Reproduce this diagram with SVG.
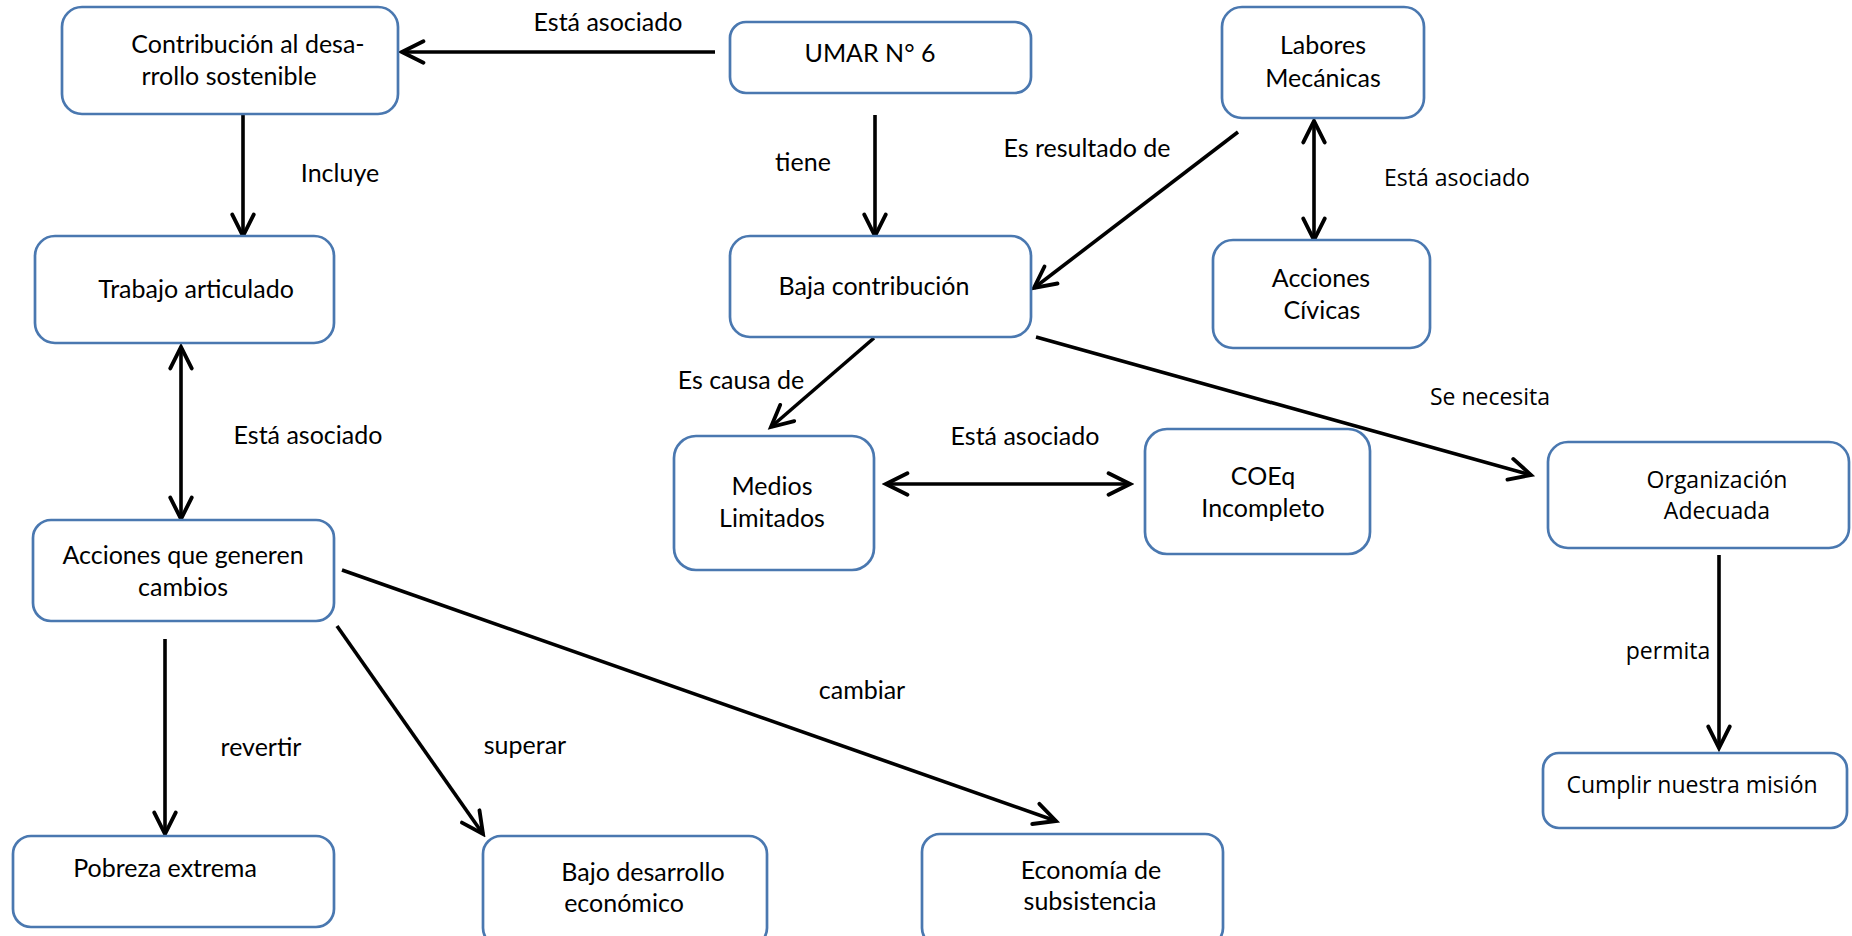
<svg xmlns="http://www.w3.org/2000/svg" width="1852" height="936" viewBox="0 0 1852 936">
<style>
.box{fill:#fff;stroke:#4A78B0;stroke-width:2.7}
.c{font-family:Lato,"Liberation Sans",sans-serif;font-size:25px;fill:#000;text-anchor:middle}
.s{font-family:"Open Sans","Noto Sans",sans-serif;font-size:23px;fill:#000;text-anchor:middle}
.ln{fill:none;stroke:#000;stroke-width:3.6}
</style>
<defs>
<marker id="ah" markerUnits="userSpaceOnUse" markerWidth="30" markerHeight="30" viewBox="-24 -14 28 28" refX="0" refY="0" orient="auto-start-reverse">
<path d="M-20,-10 L0,0 L-20,10" fill="none" stroke="#000" stroke-width="3.6" stroke-linecap="round" stroke-linejoin="miter"/>
</marker>
</defs>
<rect width="1852" height="936" fill="#fff"/>
<g id="connectors">
<line class="ln" x1="715" y1="52" x2="402" y2="52" marker-end="url(#ah)"/>
<line class="ln" x1="243" y1="114" x2="243" y2="236" marker-end="url(#ah)"/>
<line class="ln" x1="181" y1="347" x2="181" y2="519" marker-start="url(#ah)" marker-end="url(#ah)"/>
<line class="ln" x1="875" y1="115" x2="875" y2="236" marker-end="url(#ah)"/>
<line class="ln" x1="1238" y1="132" x2="1034" y2="288" marker-end="url(#ah)"/>
<line class="ln" x1="1314" y1="121" x2="1314" y2="240" marker-start="url(#ah)" marker-end="url(#ah)"/>
<line class="ln" x1="874" y1="338" x2="771" y2="427" marker-end="url(#ah)"/>
<line class="ln" x1="886" y1="484" x2="1130" y2="484" marker-start="url(#ah)" marker-end="url(#ah)"/>
<line class="ln" x1="1036" y1="337" x2="1531" y2="475" marker-end="url(#ah)"/>
<line class="ln" x1="1719" y1="555" x2="1719" y2="748" marker-end="url(#ah)"/>
<line class="ln" x1="165" y1="639" x2="165" y2="834" marker-end="url(#ah)"/>
<line class="ln" x1="337" y1="626" x2="483" y2="834" marker-end="url(#ah)"/>
<line class="ln" x1="342" y1="570" x2="1056" y2="821" marker-end="url(#ah)"/>
<text class="c" x="608" y="31">Está asociado</text>
<text class="c" x="340" y="182">Incluye</text>
<text class="c" x="803" y="171">tiene</text>
<text class="c" x="1087" y="157">Es resultado de</text>
<text class="s" x="1457" y="186">Está asociado</text>
<text class="c" x="741" y="389">Es causa de</text>
<text class="s" x="1490" y="405">Se necesita</text>
<text class="c" x="1025" y="445">Está asociado</text>
<text class="c" x="308" y="444">Está asociado</text>
<text class="c" x="862" y="699">cambiar</text>
<text class="c" x="261" y="756">revertir</text>
<text class="c" x="525" y="754">superar</text>
<text class="s" x="1668" y="659">permita</text>
</g>
<g id="n-contribucion"><rect class="box" x="62" y="7" width="336" height="107" rx="20"/><text class="c" x="248" y="53">Contribución al desa-</text><text class="c" x="229" y="85">rrollo sostenible</text></g>
<g id="n-umar"><rect class="box" x="730" y="22" width="301" height="71" rx="16"/><text class="c" x="870" y="62">UMAR N° 6</text></g>
<g id="n-labores"><rect class="box" x="1222" y="7" width="202" height="111" rx="20"/><text class="c" x="1323" y="54">Labores</text><text class="c" x="1323" y="87">Mecánicas</text></g>
<g id="n-trabajo"><rect class="box" x="35" y="236" width="299" height="107" rx="20"/><text class="c" x="196" y="298">Trabajo articulado</text></g>
<g id="n-baja"><rect class="box" x="730" y="236" width="301" height="101" rx="20"/><text class="c" x="874" y="295">Baja contribución</text></g>
<g id="n-civicas"><rect class="box" x="1213" y="240" width="217" height="108" rx="20"/><text class="c" x="1321" y="287">Acciones</text><text class="c" x="1322" y="319">Cívicas</text></g>
<g id="n-medios"><rect class="box" x="674" y="436" width="200" height="134" rx="22"/><text class="c" x="772" y="495">Medios</text><text class="c" x="772" y="527">Limitados</text></g>
<g id="n-coeq"><rect class="box" x="1145" y="429" width="225" height="125" rx="22"/><text class="c" x="1263" y="485">COEq</text><text class="c" x="1263" y="517">Incompleto</text></g>
<g id="n-organizacion"><rect class="box" x="1548" y="442" width="301" height="106" rx="20"/><text class="s" x="1717" y="488">Organización</text><text class="s" x="1717" y="519">Adecuada</text></g>
<g id="n-acciones"><rect class="box" x="33" y="520" width="301" height="101" rx="18"/><text class="c" x="183" y="564">Acciones que generen</text><text class="c" x="183" y="596">cambios</text></g>
<g id="n-cumplir"><rect class="box" x="1543" y="753" width="304" height="75" rx="16"/><text class="s" x="1692" y="793">Cumplir nuestra misión</text></g>
<g id="n-pobreza"><rect class="box" x="13" y="836" width="321" height="91" rx="18"/><text class="c" x="165" y="877">Pobreza extrema</text></g>
<g id="n-bajo"><rect class="box" x="483" y="836" width="284" height="110" rx="18"/><text class="c" x="643" y="881">Bajo desarrollo</text><text class="c" x="624" y="912">económico</text></g>
<g id="n-economia"><rect class="box" x="922" y="834" width="301" height="112" rx="18"/><text class="c" x="1091" y="879">Economía de</text><text class="c" x="1090" y="910">subsistencia</text></g>
</svg>
